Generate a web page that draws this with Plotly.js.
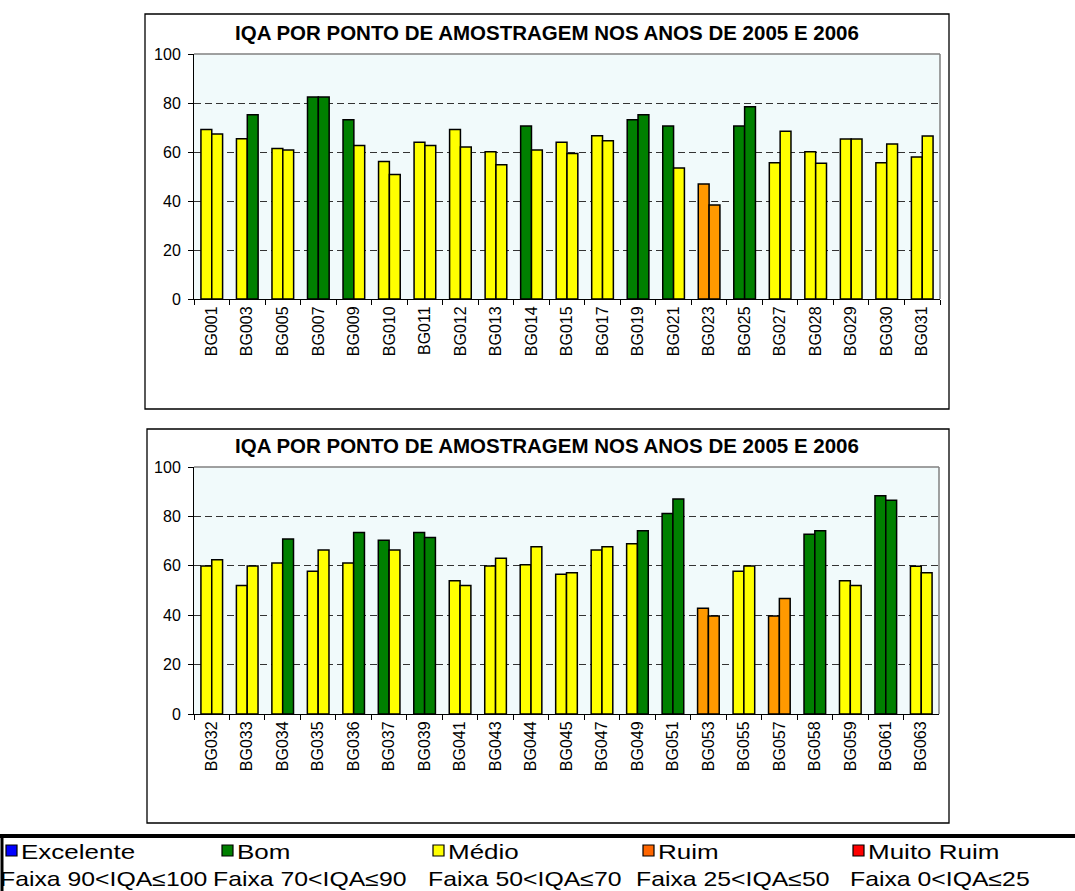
<!DOCTYPE html>
<html>
<head>
<meta charset="utf-8">
<script src="https://cdn.plot.ly/plotly-3.0.1.min.js"></script>
<style>
  html, body { margin: 0; padding: 0; background: #ffffff; }
  #chart { width: 1075px; height: 891px; }
</style>
</head>
<body>
<div id="chart"></div>
<script>
// ---------- DATA ----------
const chartTitle = "IQA POR PONTO DE AMOSTRAGEM NOS ANOS DE 2005 E 2006";

const pointsTop = ["BG001","BG003","BG005","BG007","BG009","BG010","BG011","BG012","BG013","BG014","BG015",
                   "BG017","BG019","BG021","BG023","BG025","BG027","BG028","BG029","BG030","BG031"];
const iqa2005Top = [69.2, 65.4, 61.4, 82.4, 73.2, 56.1, 64.0, 69.2, 60.1, 70.6, 64.0,
                    66.6, 73.2, 70.6, 46.9, 70.6, 55.6, 60.1, 65.3, 55.6, 58.0];
const iqa2006Top = [67.3, 75.2, 60.8, 82.4, 62.7, 50.8, 62.7, 62.0, 54.8, 60.8, 59.4,
                    64.6, 75.2, 53.5, 38.4, 78.5, 68.5, 55.4, 65.3, 63.3, 66.5];

const pointsBottom = ["BG032","BG033","BG034","BG035","BG036","BG037","BG039","BG041","BG043","BG044","BG045",
                      "BG047","BG049","BG051","BG053","BG055","BG057","BG058","BG059","BG061","BG063"];
const iqa2005Bottom = [59.9, 52.0, 61.1, 57.8, 61.1, 70.3, 73.5, 53.9, 59.9, 60.4, 56.6,
                       66.4, 68.9, 81.2, 42.8, 57.8, 39.7, 72.8, 53.9, 88.4, 59.8];
const iqa2006Bottom = [62.4, 59.9, 70.9, 66.4, 73.5, 66.4, 71.5, 52.0, 63.1, 67.7, 57.2,
                       67.7, 74.2, 87.0, 39.7, 59.9, 46.8, 74.2, 52.0, 86.5, 57.2];

const classNames  = ["Excelente", "Bom", "Médio", "Ruim", "Muito Ruim"];
const classRanges = ["Faixa 90<IQA≤100", "Faixa 70<IQA≤90", "Faixa 50<IQA≤70", "Faixa 25<IQA≤50", "Faixa 0<IQA≤25"];
const classLower  = [90, 70, 50, 25, 0];

// ---------- STYLE ----------
const barColors    = ["#0000FF", "#008000", "#FFFF00", "#FF9900", "#FF0000"];
const legendColors = ["#0000FF", "#008000", "#FFFF00", "#FF6600", "#FF0000"];
const FONT = "'Liberation Sans', Arial, Helvetica, sans-serif";
const W = 1075, H = 891;

function classify(v) {
  for (let i = 0; i < classLower.length; i++) if (v > classLower[i]) return i;
  return classLower.length - 1;
}
const colorsFor = arr => arr.map(v => barColors[classify(v)]);

function barTrace(x, y, name, xa, ya) {
  return {
    type: "bar", x: x, y: y, name: name, xaxis: xa, yaxis: ya,
    marker: { color: colorsFor(y), line: { color: "#000000", width: 1.5 } },
    showlegend: false, hoverinfo: "x+y"
  };
}

const data = [
  barTrace(pointsTop, iqa2005Top, "2005", "x", "y"),
  barTrace(pointsTop, iqa2006Top, "2006", "x", "y"),
  barTrace(pointsBottom, iqa2005Bottom, "2005", "x2", "y2"),
  barTrace(pointsBottom, iqa2006Bottom, "2006", "x2", "y2")
];

const px = v => v / W;
const py = v => 1 - v / H;

function xAxis(domain) {
  return {
    domain: domain, type: "category",
    showline: true, linecolor: "#000000", linewidth: 1,
    ticks: "outside", tickson: "boundaries", ticklen: 5, tickcolor: "#000000", tickwidth: 1,
    tickangle: -90, tickfont: { family: FONT, size: 16, color: "#000000" },
    showgrid: false, zeroline: false, fixedrange: true
  };
}
function yAxis(domain) {
  return {
    domain: domain, range: [0, 100], dtick: 20, tick0: 0,
    showline: true, linecolor: "#000000", linewidth: 1,
    ticks: "outside", ticklen: 5, tickcolor: "#000000", tickwidth: 1,
    ticklabelstandoff: 4,
    tickfont: { family: FONT, size: 16, color: "#000000" },
    showgrid: true, gridcolor: "#333333", gridwidth: 1, griddash: "7px,4px",
    zeroline: false, fixedrange: true
  };
}

const shapes = [];
const annotations = [];

// chart frames
[[145, 14, 949, 409], [147, 429, 949, 823]].forEach(f => {
  shapes.push({ type: "rect", xref: "paper", yref: "paper",
    x0: px(f[0]), x1: px(f[2]), y0: py(f[3]), y1: py(f[1]),
    line: { color: "#000000", width: 1.3 }, fillcolor: "rgba(0,0,0,0)", layer: "below" });
});
// plot-area top and right grey border lines
["", "2"].forEach(s => {
  shapes.push({ type: "line", xref: "x" + s + " domain", yref: "y" + s + " domain",
    x0: 0, x1: 1, y0: 1, y1: 1, line: { color: "#808080", width: 1.5 } });
  shapes.push({ type: "line", xref: "x" + s + " domain", yref: "y" + s + " domain",
    x0: 1, x1: 1, y0: 0, y1: 1, line: { color: "#808080", width: 1.5 } });
});

// titles
[33, 445.5].forEach(yc => {
  annotations.push({ text: "<b>" + chartTitle + "</b>", xref: "paper", yref: "paper",
    x: px(547), y: py(yc), xanchor: "center", yanchor: "middle", showarrow: false,
    font: { family: FONT, size: 20.5, color: "#000000" } });
});

// legend box lines
shapes.push({ type: "line", xref: "paper", yref: "paper", x0: 0, x1: 1, y0: py(836), y1: py(836),
  line: { color: "#000000", width: 4 } });
shapes.push({ type: "line", xref: "paper", yref: "paper", x0: px(2), x1: px(2), y0: py(834), y1: 0,
  line: { color: "#000000", width: 3 } });

// legend entries
const sqX    = [6, 222, 433, 643, 853];
const nameX  = [19, 235, 446, 656, 866];
const rangeX = [-2, 211, 426, 634, 848];
classNames.forEach((n, i) => {
  shapes.push({ type: "rect", xref: "paper", yref: "paper",
    x0: px(sqX[i]), x1: px(sqX[i] + 11), y0: py(856), y1: py(845),
    fillcolor: legendColors[i], line: { color: "#000000", width: 1.2 } });
  annotations.push({ text: n, xref: "paper", yref: "paper", x: px(nameX[i]), y: py(851.5),
    xanchor: "left", yanchor: "middle", showarrow: false,
    font: { family: FONT, size: 20, color: "#000000" } });
  annotations.push({ text: classRanges[i], xref: "paper", yref: "paper", x: px(rangeX[i]), y: py(878.5),
    xanchor: "left", yanchor: "middle", showarrow: false,
    font: { family: FONT, size: 20, color: "#000000" } });
});

const layout = {
  width: W, height: H,
  margin: { l: 0, r: 0, t: 0, b: 0, pad: 0 },
  paper_bgcolor: "#ffffff",
  plot_bgcolor: "#F1FAFB",
  barmode: "group", bargap: 0.39, bargroupgap: 0,
  showlegend: false,
  xaxis:  Object.assign(xAxis([px(194), px(940)]), { anchor: "y" }),
  yaxis:  Object.assign(yAxis([py(299), py(54)]), { anchor: "x" }),
  xaxis2: Object.assign(xAxis([px(194), px(939)]), { anchor: "y2" }),
  yaxis2: Object.assign(yAxis([py(714), py(467)]), { anchor: "x2" }),
  shapes: shapes,
  annotations: annotations
};

Plotly.newPlot("chart", data, layout, { displayModeBar: false, staticPlot: true }).then(() => {
  // widen the legend texts horizontally as in the reference
  document.querySelectorAll("#chart .annotation").forEach(g => {
    const idx = +g.getAttribute("data-index");
    if (idx >= 2) {
      const t = g.querySelector("text");
      if (t) {
        const rowOne = (idx - 2) % 2 === 0;
        t.style.transformBox = "fill-box";
        t.style.transformOrigin = "0% 50%";
        t.style.transform = rowOne ? "scaleX(1.3)" : "scaleX(1.24)";
      }
    }
  });
});
</script>
</body>
</html>
